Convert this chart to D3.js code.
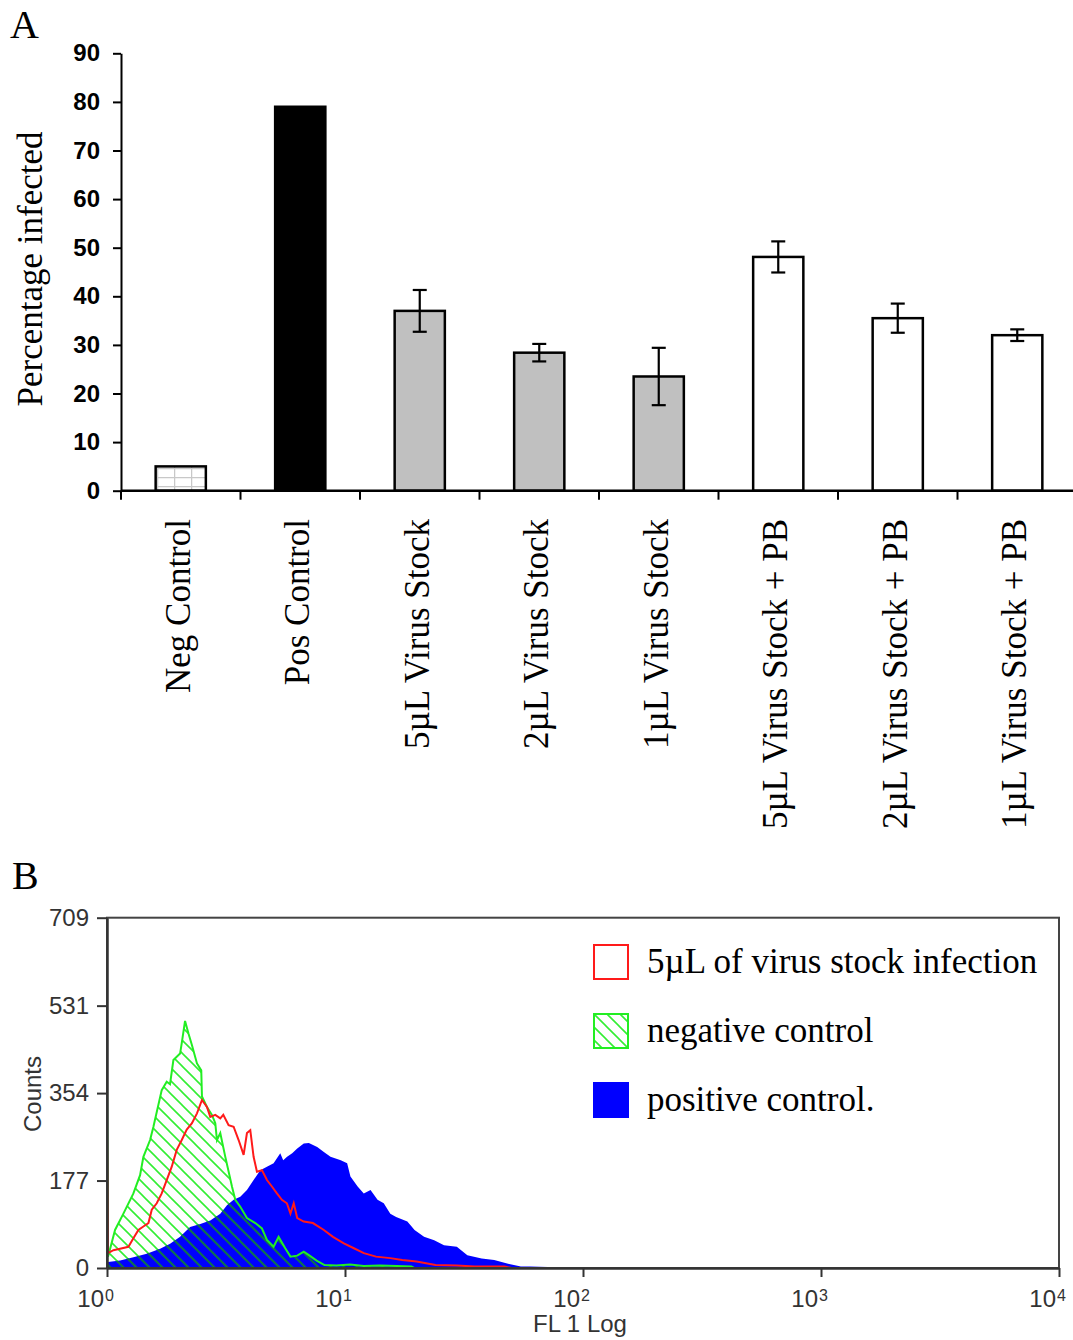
<!DOCTYPE html>
<html>
<head>
<meta charset="utf-8">
<script src="https://cdn.jsdelivr.net/npm/d3@7"></script>
<style>
  body { margin: 0; background: #fff; }
  svg { display: block; }
</style>
</head>
<body>
<script>
// ---- Panel A data
var categories = ["Neg Control", "Pos Control", "5\u00b5L Virus Stock", "2\u00b5L Virus Stock", "1\u00b5L Virus Stock",
                  "5\u00b5L Virus Stock + PB", "2\u00b5L Virus Stock + PB", "1\u00b5L Virus Stock + PB"];
var percentInfected = [5, 79, 37, 28.4, 23.5, 48.1, 35.5, 32];
var errorSize = [null, null, 4.3, 1.8, 5.9, 3.2, 3, 1.2];
var barKind = ["neg", "pos", "stock", "stock", "stock", "pb", "pb", "pb"];
var yTicksA = [0, 10, 20, 30, 40, 50, 60, 70, 80, 90];

// ---- Panel B data : [FL1 value, counts]
var negativeControl = [[1, 380], [1.01, 23], [1.081, 77], [1.172, 110], [1.291, 151], [1.377, 188], [1.422, 225],
  [1.517, 259], [1.567, 286], [1.698, 360], [1.782, 377], [1.84, 372], [1.901, 421], [2.028, 434], [2.061, 455],
  [2.128, 500], [2.198, 475], [2.275, 451], [2.388, 414], [2.489, 400], [2.506, 347], [2.63, 326], [2.76, 310],
  [2.851, 293], [2.897, 259], [2.992, 273], [3.141, 225], [3.35, 165], [3.459, 138], [3.631, 124], [3.873, 101],
  [4.198, 91], [4.477, 80], [4.699, 57], [5.012, 43], [5.26, 63], [5.61, 40], [5.9, 23], [6.3, 25], [6.71, 33],
  [7.05, 26], [7.6, 15], [8.2, 6], [9.2, 5], [10.5, 7], [12, 4], [14, 5], [16.5, 4], [19, 3], [19.5, 0]];
var virusStock5uL = [[1, 276], [1.01, 30], [1.064, 36], [1.135, 39], [1.23, 43], [1.291, 60], [1.355, 77],
  [1.422, 84], [1.493, 91], [1.542, 118], [1.618, 131], [1.698, 151], [1.782, 178], [1.871, 205], [1.963, 239],
  [2.061, 259], [2.163, 280], [2.275, 293], [2.388, 313], [2.506, 340], [2.63, 326], [2.716, 306], [2.851, 310],
  [2.992, 303], [3.08, 310], [3.243, 289], [3.404, 286], [3.573, 259], [3.75, 229], [3.873, 273], [4.0, 279],
  [4.13, 225], [4.266, 195], [4.477, 198], [4.699, 178], [4.93, 165], [5.176, 151], [5.43, 138], [5.7, 131],
  [5.9, 110], [6.09, 131], [6.3, 101], [6.71, 94], [7.33, 91], [8.15, 77], [8.9, 63], [9.89, 50], [10.9, 40],
  [12, 30], [13.5, 23], [15.5, 20], [17.4, 16], [20, 13], [24, 6], [29.5, 5], [35, 3], [46.8, 3], [50, 0]];
var positiveControl = [[1, 77], [1.01, 12], [1.135, 15], [1.291, 22], [1.469, 29], [1.671, 39], [1.841, 49],
  [2.028, 63], [2.234, 83], [2.466, 89], [2.716, 96], [2.992, 110], [3.192, 127], [3.404, 138], [3.631, 144],
  [3.873, 158], [4.13, 178], [4.406, 198], [4.699, 205], [5.012, 212], [5.346, 232], [5.5, 218], [5.71, 225],
  [6.0, 232], [6.3, 242], [6.71, 252], [7.05, 253], [7.64, 245], [8.15, 235], [8.69, 225], [9.6, 218],
  [10.21, 212], [10.54, 185], [11.3, 165], [11.99, 151], [12.8, 158], [13.7, 138], [14.55, 131], [15.5, 110],
  [16.4, 103], [18.28, 94], [19.6, 77], [21.48, 63], [23.7, 56], [26.06, 46], [29.5, 43], [32.66, 26],
  [37.5, 19], [42.36, 16], [48, 9], [54.83, 3], [60, 3], [71, 2], [72, 0]];
var yTicksB = [0, 177, 354, 531, 709];
var xTicksB = [1, 10, 100, 1000, 10000];
var legendLabels = ["5\u00b5L of virus stock infection", "negative control", "positive control."];

var width = 1073;
var height = 1340;

var svg = d3.select("body")
            .append("svg")
            .attr("width", width)
            .attr("height", height);

var defs = svg.append("defs");

// grid pattern for Neg Control bar
var grid = defs.append("pattern")
               .attr("id", "gridFill")
               .attr("patternUnits", "userSpaceOnUse")
               .attr("width", 17).attr("height", 9)
               .attr("x", 157).attr("y", 468);
grid.append("rect").attr("width", 17).attr("height", 9).attr("fill", "#fff");
grid.append("path").attr("d", "M0,0V9M0,0H17").attr("stroke", "#c8c8c8").attr("stroke-width", 2.5);

// hatch patterns for negative control
function hatch(id, color, w) {
    var p = defs.append("pattern")
                .attr("id", id)
                .attr("patternUnits", "userSpaceOnUse")
                .attr("width", 13).attr("height", 13);
    p.append("path")
     .attr("d", "M-2,-2L15,15M-2,11L2,15M11,-2L15,2")
     .attr("stroke", color)
     .attr("stroke-width", w);
}
hatch("hatchLight", "#33ee33", 1.6);
hatch("hatchDark", "#0e7050", 2.2);

// ======================= Panel A =======================
svg.append("text")
   .attr("x", 10).attr("y", 38)
   .attr("font-family", "Liberation Serif, Times New Roman, serif")
   .attr("font-size", 40)
   .text("A");

var yA = d3.scaleLinear().domain([0, 90]).range([490.7, 53.3]);
var xA = d3.scaleBand().domain(categories).range([121, 1077]).padding(0);
var xBar = d3.scaleBand().domain(categories).range([121, 1077]).paddingInner(0.58).paddingOuter(0.29);

var fills = { neg: "url(#gridFill)", pos: "#000", stock: "#c0c0c0", pb: "#fff" };

svg.selectAll("rect.bar")
   .data(categories)
   .enter()
   .append("rect")
   .attr("class", "bar")
   .attr("x", function(d) { return xBar(d); })
   .attr("width", xBar.bandwidth())
   .attr("y", function(d, i) { return yA(percentInfected[i]); })
   .attr("height", function(d, i) { return yA(0) - yA(percentInfected[i]); })
   .attr("fill", function(d, i) { return fills[barKind[i]]; })
   .attr("stroke", "#000")
   .attr("stroke-width", 2.5);

// error bars
var errs = svg.append("g").attr("stroke", "#000").attr("stroke-width", 2.2);
categories.forEach(function(c, i) {
    if (errorSize[i] == null) return;
    var cx = xA(c) + xA.bandwidth() / 2;
    var top = yA(percentInfected[i] + errorSize[i]);
    var bot = yA(percentInfected[i] - errorSize[i]);
    errs.append("line").attr("x1", cx).attr("x2", cx).attr("y1", top).attr("y2", bot);
    errs.append("line").attr("x1", cx - 7).attr("x2", cx + 7).attr("y1", top).attr("y2", top);
    errs.append("line").attr("x1", cx - 7).attr("x2", cx + 7).attr("y1", bot).attr("y2", bot);
});

// y axis
var yAxisA = svg.append("g")
                .attr("transform", "translate(121,0)")
                .call(d3.axisLeft(yA).tickValues(yTicksA).tickSize(8).tickSizeOuter(0).tickPadding(13));
yAxisA.select(".domain").attr("stroke-width", 2);
yAxisA.selectAll(".tick line").attr("stroke-width", 2);
yAxisA.selectAll("text")
      .attr("font-family", "Liberation Sans, Arial, sans-serif")
      .attr("font-weight", "bold")
      .attr("font-size", 24)
      .attr("fill", "#000");

// x axis line and ticks at category boundaries
svg.append("line")
   .attr("x1", 121).attr("x2", 1077)
   .attr("y1", yA(0)).attr("y2", yA(0))
   .attr("stroke", "#000").attr("stroke-width", 2.5);
svg.selectAll("line.xtick")
   .data(categories)
   .enter()
   .append("line")
   .attr("class", "xtick")
   .attr("x1", function(d) { return xA(d); })
   .attr("x2", function(d) { return xA(d); })
   .attr("y1", yA(0)).attr("y2", yA(0) + 9)
   .attr("stroke", "#000").attr("stroke-width", 2);

svg.selectAll("text.cat")
   .data(categories)
   .enter()
   .append("text")
   .attr("class", "cat")
   .attr("transform", function(d) {
        return "translate(" + (xA(d) + xA.bandwidth() / 2 + 9) + ",519) rotate(-90)";
   })
   .attr("text-anchor", "end")
   .attr("font-family", "Liberation Serif, Times New Roman, serif")
   .attr("font-size", 35)
   .text(function(d) { return d; });

svg.append("text")
   .attr("transform", "translate(42,269) rotate(-90)")
   .attr("text-anchor", "middle")
   .attr("font-family", "Liberation Serif, Times New Roman, serif")
   .attr("font-size", 35)
   .text("Percentage infected");

// ======================= Panel B =======================
svg.append("text")
   .attr("x", 12).attr("y", 889)
   .attr("font-family", "Liberation Serif, Times New Roman, serif")
   .attr("font-size", 40)
   .text("B");

var xB = d3.scaleLog().domain([1, 10000]).range([107, 1059]);
var yB = d3.scaleLinear().domain([0, 709]).range([1268, 917.7]);

defs.append("clipPath").attr("id", "plotClip")
    .append("rect").attr("x", 107).attr("y", 917).attr("width", 952).attr("height", 351);

var area = d3.area()
             .x(function(d) { return xB(d[0]); })
             .y0(yB(0))
             .y1(function(d) { return yB(d[1]); });
var line = d3.line()
             .x(function(d) { return xB(d[0]); })
             .y(function(d) { return yB(d[1]); });

defs.append("clipPath").attr("id", "posClip")
    .append("path").attr("d", area(positiveControl));

var hist = svg.append("g").attr("clip-path", "url(#plotClip)");

// negative control hatch
hist.append("path")
    .attr("d", area(negativeControl))
    .attr("fill", "url(#hatchLight)");

// positive control filled
hist.append("path")
    .attr("d", area(positiveControl))
    .attr("fill", "#0000ff");

// hatch where negative control overlaps positive
hist.append("g")
    .attr("clip-path", "url(#posClip)")
    .append("path")
    .attr("d", area(negativeControl))
    .attr("fill", "url(#hatchDark)");

hist.append("path")
    .attr("d", line(negativeControl))
    .attr("fill", "none")
    .attr("stroke", "#22ee22")
    .attr("stroke-width", 2);

hist.append("path")
    .attr("d", line(virusStock5uL))
    .attr("fill", "none")
    .attr("stroke", "#ff1a1a")
    .attr("stroke-width", 2);

// frame
svg.append("rect")
   .attr("x", 107).attr("y", yB(709))
   .attr("width", xB(10000) - 107).attr("height", yB(0) - yB(709))
   .attr("fill", "none")
   .attr("stroke", "#444")
   .attr("stroke-width", 2);

var axisFont = "Liberation Sans, Arial, sans-serif";

var yAxisB = svg.append("g")
                .attr("transform", "translate(107,0)")
                .call(d3.axisLeft(yB).tickValues(yTicksB).tickSize(10).tickSizeOuter(0).tickPadding(8));
yAxisB.select(".domain").attr("stroke", "#333").attr("stroke-width", 2.5);
yAxisB.selectAll(".tick line").attr("stroke", "#333").attr("stroke-width", 2);
yAxisB.selectAll("text")
      .attr("font-family", axisFont)
      .attr("font-size", 24)
      .attr("fill", "#333");

var xAxisB = svg.append("g")
                .attr("transform", "translate(0," + yB(0) + ")")
                .call(d3.axisBottom(xB).tickValues(xTicksB).tickSize(9).tickSizeOuter(0).tickFormat(""));
xAxisB.select(".domain").attr("stroke", "#333").attr("stroke-width", 2.5);
xAxisB.selectAll(".tick line").attr("stroke", "#333").attr("stroke-width", 2);

svg.selectAll("text.xb")
   .data(xTicksB)
   .enter()
   .append("text")
   .attr("class", "xb")
   .attr("x", function(d) { return xB(d) - 3; })
   .attr("y", 1307)
   .attr("text-anchor", "end")
   .attr("font-family", axisFont)
   .attr("font-size", 24)
   .attr("fill", "#333")
   .text("10");
svg.selectAll("text.xbsup")
   .data(xTicksB)
   .enter()
   .append("text")
   .attr("class", "xbsup")
   .attr("x", function(d) { return xB(d) - 2; })
   .attr("y", 1301)
   .attr("font-family", axisFont)
   .attr("font-size", 16)
   .attr("fill", "#333")
   .text(function(d) { return Math.round(Math.log10(d)); });

svg.append("text")
   .attr("x", 580).attr("y", 1332)
   .attr("text-anchor", "middle")
   .attr("font-family", axisFont)
   .attr("font-size", 24)
   .attr("fill", "#333")
   .text("FL 1 Log");

svg.append("text")
   .attr("transform", "translate(41,1094) rotate(-90)")
   .attr("text-anchor", "middle")
   .attr("font-family", axisFont)
   .attr("font-size", 24)
   .attr("fill", "#333")
   .text("Counts");

// legend
var legendStyle = [
    { fill: "#fff", stroke: "#ff1a1a" },
    { fill: "url(#hatchLight)", stroke: "#22ee22" },
    { fill: "#0000ff", stroke: "#0000ff" }
];
var legend = svg.selectAll("g.legend")
                .data(legendLabels)
                .enter()
                .append("g")
                .attr("class", "legend")
                .attr("transform", function(d, i) { return "translate(593," + (944 + i * 69) + ")"; });
legend.append("rect")
      .attr("x", 1).attr("y", 1)
      .attr("width", 34).attr("height", 34)
      .attr("fill", function(d, i) { return legendStyle[i].fill; })
      .attr("stroke", function(d, i) { return legendStyle[i].stroke; })
      .attr("stroke-width", 2);
legend.append("text")
      .attr("x", 54).attr("y", 29)
      .attr("font-family", "Liberation Serif, Times New Roman, serif")
      .attr("font-size", 35)
      .text(function(d) { return d; });
</script>
</body>
</html>
